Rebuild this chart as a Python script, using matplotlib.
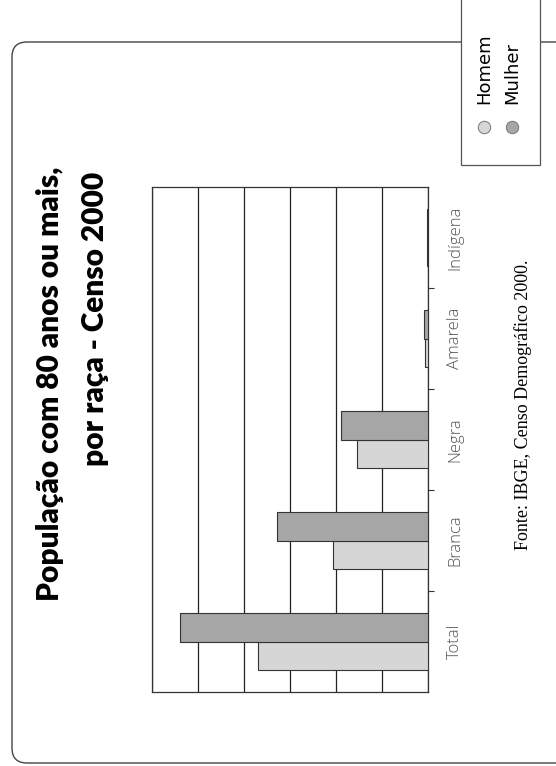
import matplotlib
matplotlib.use("Agg")
import matplotlib.pyplot as plt
from matplotlib.patches import FancyBboxPatch, Rectangle

# data read from the (rotated) scan, units = gridline steps
categories = ["Total", "Branca", "Negra", "Amarela", "Indígena"]
homem = [3.70, 2.07, 1.54, 0.07, 0.03]
mulher = [5.39, 3.28, 1.89, 0.08, 0.03]
series_names = ["Homem", "Mulher"]
series_colors = ["#d6d6d6", "#a6a6a6"]
title_lines = ["População com 80 anos ou mais,", "por raça - Censo 2000"]
source = "Fonte: IBGE, Censo Demográfico 2000."

W, H = 556, 766
fig = plt.figure(figsize=(W / 100, H / 100), dpi=100)

# background layer in pixel coords for the frame, title, legend and source
bg = fig.add_axes([0, 0, 1, 1])
bg.set_xlim(0, W)
bg.set_ylim(H, 0)
bg.axis("off")

frame = FancyBboxPatch((12, 42), 620, 721, boxstyle="round,pad=0,rounding_size=15",
                       fc="none", ec="#444444", lw=1.0)
bg.add_patch(frame)

# both title lines end at the same height (text runs bottom to top)
bg.text(50, 167, title_lines[0], rotation=90, ha="center", va="top",
        fontsize=21.5, fontweight="heavy", family="Lato")
bg.text(95, 172, title_lines[1], rotation=90, ha="center", va="top",
        fontsize=21.5, fontweight="heavy", family="Lato")

bg.text(523, 405, source, rotation=90, ha="center", va="center",
        fontsize=13, family="Liberation Serif")

# legend (rotated, drawn by hand)
bg.add_patch(Rectangle((461, -2), 79, 167, fc="white", ec="#555555", lw=0.9, zorder=3))
for i, (name, col) in enumerate(zip(series_names, series_colors)):
    x = 484 + i * 28
    bg.text(x, 104, name, rotation=90, ha="center", va="bottom", fontsize=13,
            family="DejaVu Sans", zorder=4)
    bg.scatter([x], [127], s=80, c=col, edgecolors="#777777", linewidths=0.7, zorder=4)

# the chart itself: horizontal bars, value axis running right-to-left
ax = fig.add_axes([152 / W, 1 - 692 / H, (428 - 152) / W, (692 - 187) / H])
ypos = list(range(len(categories)))
w = 0.28
ax.barh([y - w / 2 for y in ypos], homem, height=w, color=series_colors[0],
        edgecolor="#333333", linewidth=0.8, zorder=3)
ax.barh([y + w / 2 for y in ypos], mulher, height=w, color=series_colors[1],
        edgecolor="#333333", linewidth=0.8, zorder=3)
ax.set_xlim(6, 0)
ax.set_ylim(-0.5, len(categories) - 0.5)
ax.set_xticks(range(7))
ax.xaxis.grid(True, color="#222222", lw=0.9)
ax.tick_params(axis="x", length=0, labelbottom=False)
ax.yaxis.tick_right()
ax.set_yticks(ypos)
ax.set_yticklabels(categories, rotation=90, va="center", fontsize=12,
                   family="Open Sans", fontweight="light", color="#555555")
ax.set_yticks([y + 0.5 for y in ypos[:-1]], minor=True)
ax.tick_params(axis="y", which="major", length=0, pad=14)
ax.tick_params(axis="y", which="minor", length=4, width=0.8, color="#333333")
for s in ax.spines.values():
    s.set_color("#333333")
    s.set_linewidth(0.9)

fig.savefig("out.png", dpi=100)
